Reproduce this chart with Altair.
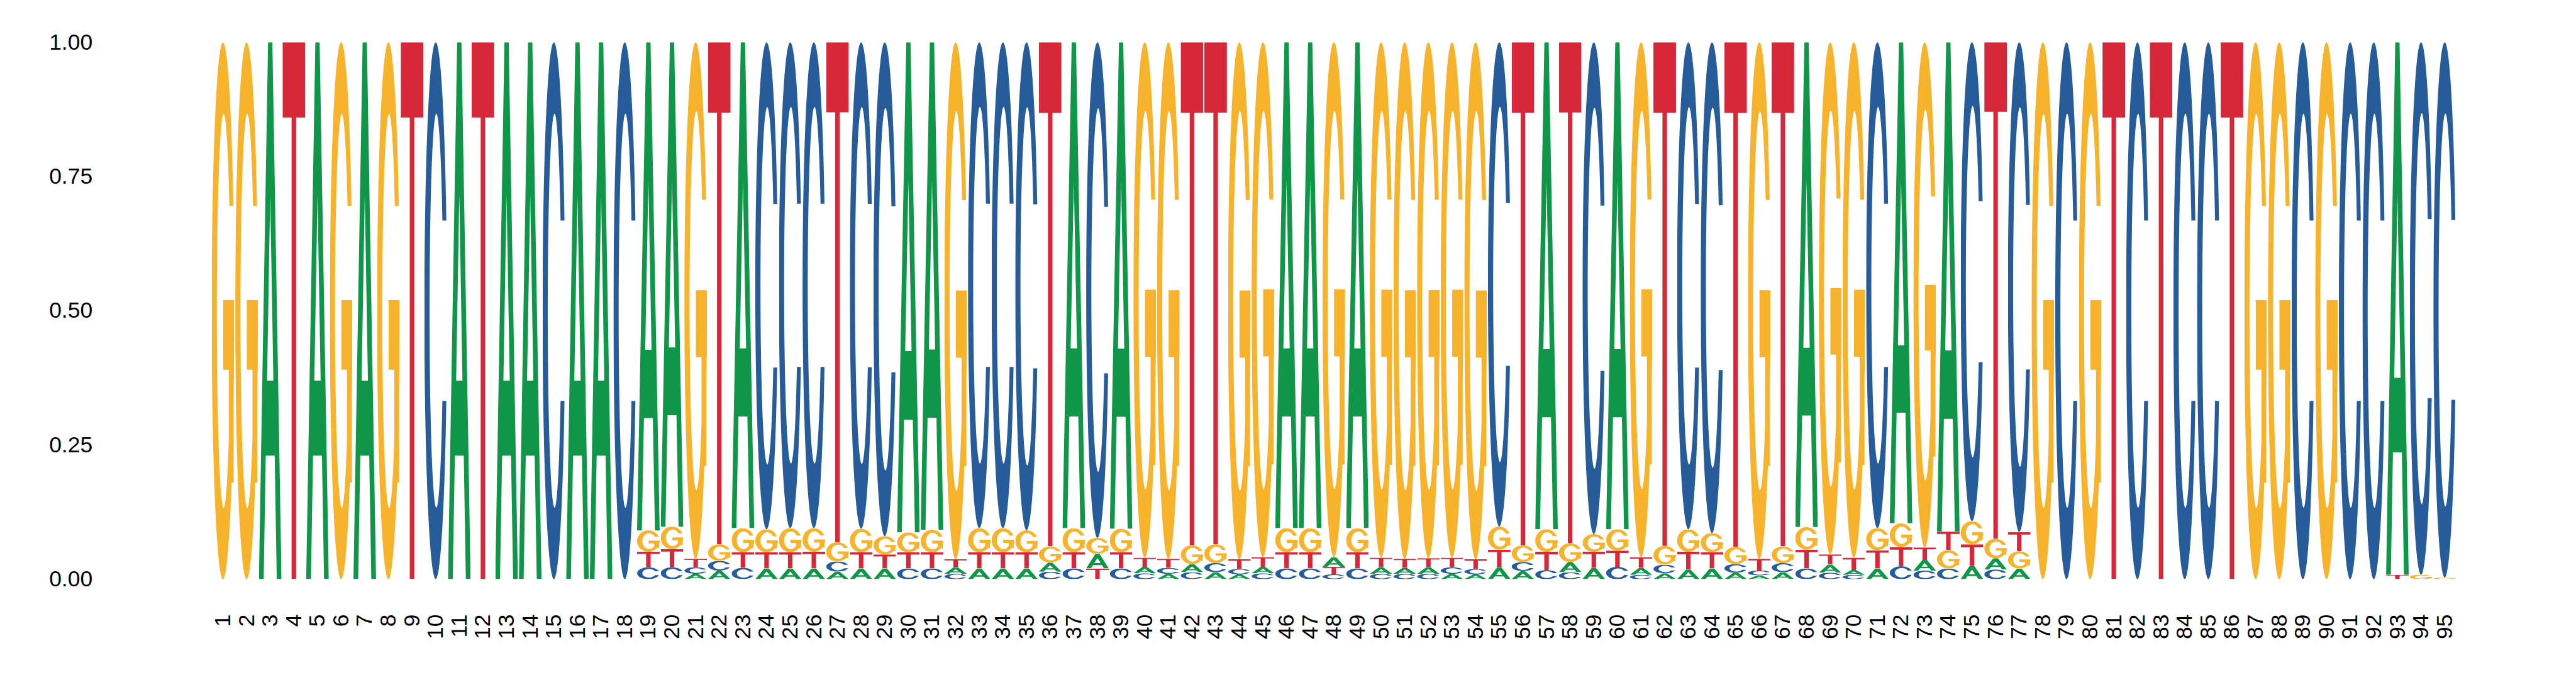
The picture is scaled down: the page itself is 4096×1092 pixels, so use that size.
import math
import altair as alt
import pandas as pd
from urllib.parse import quote

# ---------------- data (probability of each base at each position) ----------------
positions = list(range(1, 96))

A = [0, 0, 1, 0, 1, 0, 1, 0, 0, 0, 1, 0, 1, 1, 0, 1, 1, 0,
     .909, .902, .010, .016, .905, .020, .020, .020, .014, .020, .020, .913,
     .908, .012, .020, .020, .020, .017, .905, .027, .906, .012, .010, .015,
     .013, .009, .012, .905, .905, .018, .905, .012, .011, .012, .010, .009,
     .022, .015, .907, .019, .021, .907, .013, .011, .018, .020, .012, .007,
     .013, .903, .015, .009, .020, .896, .020, .911, .025, .021, .020,
     0, 0, 0, 0, 0, 0, 0, 0, 0, 0, 0, 0, 0, 0, 0, .992, 0, 0]
C = [0, 0, 0, 0, 0, 0, 0, 0, 0, 1, 0, 0, 0, 0, 1, 0, 0, 1,
     .022, .022, .012, .018, .021, .907, .905, .905, .019, .906, .920, .020,
     .020, .010, .905, .905, .909, .014, .020, .923, .020, .011, .011, .013,
     .017, .010, .011, .020, .020, .009, .020, .010, .010, .010, .012, .010,
     .902, .017, .017, .013, .916, .023, .008, .016, .907, .914, .016, .009,
     .017, .020, .012, .008, .905, .024, .016, .020, .892, .018, .912,
     0, 1, 0, 0, 1, 0, 1, 1, 0, 0, 0, 1, 0, 1, 1, 0, .992, .997]
G = [1, 1, 0, 0, 0, 1, 0, 1, 0, 0, 0, 0, 0, 0, 0, 0, 0, 0,
     .040, .042, .962, .031, .045, .043, .045, .044, .036, .044, .034, .037,
     .042, .963, .045, .045, .041, .030, .045, .030, .044, .960, .962, .035,
     .035, .963, .959, .045, .045, .959, .045, .960, .962, .961, .960, .963,
     .043, .031, .042, .035, .033, .040, .959, .035, .042, .036, .032, .962,
     .031, .042, .954, .960, .041, .044, .941, .034, .043, .036, .032,
     1, 0, 1, 0, 0, 0, 0, 0, 0, 1, 1, 0, 1, 0, 0, 0, .008, .003]
T = [0, 0, 0, 1, 0, 0, 0, 0, 1, 0, 0, 1, 0, 0, 0, 0, 0, 0,
     .029, .034, .016, .935, .029, .030, .030, .031, .931, .030, .026, .030,
     .030, .015, .030, .030, .030, .939, .030, .020, .030, .017, .017, .937,
     .935, .018, .018, .030, .030, .014, .030, .018, .017, .017, .018, .018,
     .033, .937, .034, .933, .030, .030, .020, .938, .033, .030, .940, .022,
     .939, .035, .019, .023, .034, .036, .023, .035, .040, .925, .036,
     0, 0, 0, 1, 0, 1, 0, 0, 1, 0, 0, 0, 0, 0, 0, .008, 0, 0]

y_ticks = [0.0, 0.25, 0.5, 0.75, 1.0]

# ---------------- glyph styling (Helvetica-bold-like outlines in a 100x100 box) ----------------
colors = {"A": "#109648", "C": "#255C99", "G": "#F7B32B", "T": "#D62839"}

OCX, OCY, ORX, ORY = 50.0, 50.0, 50.0, 50.0     # outer bowl
ICX, ICY, IRX, IRY = 53.0, 50.0, 30.0, 36.7     # inner counter


def ex(cx, cy, rx, ry, y):
    return cx + rx * math.sqrt(max(0.0, 1 - ((y - cy) / ry) ** 2))


def ring_open(y_top, y_bot):
    p1 = (ex(OCX, OCY, ORX, ORY, y_top), y_top)
    p2 = (ex(OCX, OCY, ORX, ORY, y_bot), y_bot)
    q1 = (ex(ICX, ICY, IRX, IRY, y_top), y_top)
    q2 = (ex(ICX, ICY, IRX, IRY, y_bot), y_bot)
    return ("M%.2f %.2f A%g %g 0 1 0 %.2f %.2f L%.2f %.2f A%g %g 0 1 1 %.2f %.2f Z"
            % (p1[0], p1[1], ORX, ORY, p2[0], p2[1], q2[0], q2[1], IRX, IRY, q1[0], q1[1]))


def rect_ccw(x0, y0, x1, y1):
    return "M%g %g L%g %g L%g %g L%g %g Z" % (x0, y0, x0, y1, x1, y1, x1, y0)


paths = {
    "A": ("M0 100 L40.5 0 L59.5 0 L100 100 L79 100 L69.7 77 L30.3 77 L21 100 Z "
          "M36 63 L64 63 L50 28.4 Z", "evenodd"),
    "C": (ring_open(33.2, 66.8), "nonzero"),
    "G": (ring_open(30.5, 48.0) + " " + rect_ccw(51, 48, 99.5, 61) + " "
          + rect_ccw(76, 48, 97.5, 82), "nonzero"),
    "T": ("M0 0 H100 V14 H60 V100 H40 V14 H0 Z", "nonzero"),
}


def glyph_url(letter):
    d, rule = paths[letter]
    svg = ('<svg xmlns="http://www.w3.org/2000/svg" viewBox="0 0 100 100" '
           'preserveAspectRatio="none" width="100" height="100">'
           '<path d="%s" fill="%s" fill-rule="%s"/></svg>' % (d, colors[letter], rule))
    return "data:image/svg+xml;charset=utf-8," + quote(svg)


urls = {k: glyph_url(k) for k in "ACGT"}

half_w = 0.478
rows = []
for i, p in enumerate(positions):
    vals = [("A", A[i]), ("C", C[i]), ("G", G[i]), ("T", T[i])]
    vals = sorted([v for v in vals if v[1] > 0], key=lambda v: v[1])
    base = 0.0
    for letter, v in vals:
        rows.append({"pos": p, "letter": letter, "y0": base, "y1": base + v,
                     "x0": p - half_w, "x1": p + half_w, "url": urls[letter]})
        base += v
df = pd.DataFrame(rows)

xscale = alt.Scale(domain=[0.5, 95.5], nice=False, zero=False)
yscale = alt.Scale(domain=[0, 1], nice=False, zero=False)

chart = alt.Chart(df).mark_image(aspect=False).encode(
    x=alt.X("x0:Q", scale=xscale,
            axis=alt.Axis(values=positions, format="d", title=None, labelAngle=-90,
                          labelAlign="right", labelBaseline="middle",
                          ticks=False, domain=False, grid=False,
                          labelPadding=55.5, labelFontSize=35.5,
                          labelFont="Liberation Sans", labelColor="#000000",
                          labelOverlap=False, labelFlush=False)),
    x2="x1:Q",
    y=alt.Y("y0:Q", scale=yscale,
            axis=alt.Axis(values=y_ticks, format=".2f", title=None,
                          ticks=False, domain=False, grid=False,
                          labelPadding=189, labelFontSize=35.5,
                          labelFont="Liberation Sans", labelColor="#000000",
                          labelFlush=False)),
    y2="y1:Q",
    url="url:N",
).properties(
    width=3570.3,
    height=853.3,
    background="#ffffff",
    autosize=alt.AutoSizeParams(type="none"),
    padding={"left": 327.7, "top": 59.3, "right": 150, "bottom": 150},
).configure_view(strokeWidth=0, stroke="transparent")

chart.save("out.html", embed_options={"renderer": "svg", "actions": False})
